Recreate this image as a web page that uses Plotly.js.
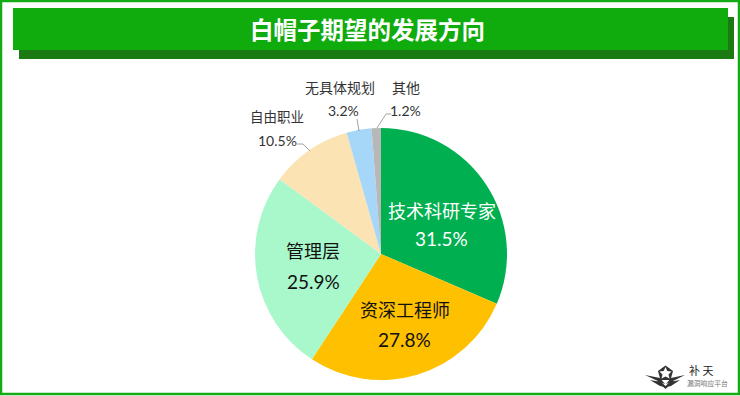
<!DOCTYPE html>
<html><head><meta charset="utf-8">
<script src="https://cdn.plot.ly/plotly-3.0.1.min.js"></script>
<style>html,body{margin:0;padding:0;background:#fff}#c{width:740px;height:396px}</style>
</head><body><div id="c"></div>
<script>
const categories=['技术科研专家','资深工程师','管理层','自由职业','无具体规划','其他'];
const values=[31.5,27.8,25.9,10.5,3.2,1.2];
const sliceColors=['#00B050','#FFC000','#A8F8CC','#FBE3B4','#A6D6F8','#B8B8B8'];
const titleText='白帽子期望的发展方向';
const W=740,H=396;
const FONT='"Noto Sans CJK SC","Microsoft YaHei",sans-serif';
const NUM='Lato,"Noto Sans",sans-serif';
const px=x=>x/W, py=y=>1-y/H;
function rect(x0,y0,x1,y1,fill,line,lw){return {type:'rect',xref:'paper',yref:'paper',x0:px(x0),x1:px(x1),y0:py(y1),y1:py(y0),fillcolor:fill,line:{color:line||fill,width:lw||0},layer:'below'};}
function lead(pts){return {type:'path',xref:'paper',yref:'paper',layer:'above',line:{color:'#8c8c8c',width:0.8},
  path:pts.map((p,i)=>(i?'L':'M')+px(p[0])+' '+py(p[1])).join(' ')};}
function poly(pts,fill){return {type:'path',xref:'paper',yref:'paper',layer:'above',fillcolor:fill,line:{width:0},
  path:pts.map((p,i)=>(i?'L':'M')+px(p[0])+' '+py(p[1])).join(' ')+' Z'};}
function label(x,y,t,size,color,weight,fam){return {xref:'paper',yref:'paper',x:px(x),y:py(y),text:t,showarrow:false,xanchor:'center',yanchor:'middle',
  font:{family:fam||FONT,size:size,color:color||'#222',weight:weight||400}};}
const pct=v=>v.toFixed(1)+'%';
const cx=381,cy=254,r=126;
const shapes=[
  rect(1,1,739,394,'rgba(0,0,0,0)','#14AB14',2.5),
  rect(19,17,734,59,'#1B7A12'),
  rect(13,8,728,50,'#10AB0C'),
  lead([[297,144],[303,144],[310,151]]),
  lead([[357,119],[359,131]]),
  lead([[391,114],[386,114],[377,128]]),
  poly([[645,375],[660,378],[665,384],[660,382]],'#333'),
  poly([[650,380],[661,382],[665,387],[660,386]],'#333'),
  poly([[685,375],[671,378],[666,384],[671,382]],'#333'),
  poly([[680,380],[670,382],[666,387],[671,386]],'#333'),
  poly([[665.5,389],[657,381],[660,381],[665.5,386],[671,381],[674,381]],'#333'),
  poly([[665.5,365.5],[673,371],[670.5,380],[660.5,380],[658,371]],'#333'),
  poly([[665.5,367],[667.3,371],[671.5,371.5],[668.5,374.5],[669.5,378.5],[665.5,376.5],[661.5,378.5],[662.5,374.5],[659.5,371.5],[663.7,371]],'#fff')
];
const annotations=[
  label(367,29,titleText,23.5,'#fff',700),
  label(442,210,categories[0],18,'#fff'),
  label(441,239,pct(values[0]),19,'#fff',400,NUM),
  label(405,309,categories[1],18,'#111'),
  label(405,339,pct(values[1]),19,'#111',400,NUM),
  label(313,250,categories[2],18,'#111'),
  label(313,281,pct(values[2]),19,'#111',400,NUM),
  label(277,116,categories[3],13.5,'#333'),
  label(277,140,pct(values[3]),14,'#333',400,NUM),
  label(340,87,categories[4],14,'#333'),
  label(343,110,pct(values[4]),14,'#333',400,NUM),
  label(406,87,categories[5],14,'#333'),
  label(406,110,pct(values[5]),14,'#333',400,NUM),
  label(701,370,'补 天',11,'#222',400),
  label(707,383,'漏洞响应平台',6.8,'#777')
];
Plotly.newPlot('c',[{
  type:'pie',labels:categories,values:values,sort:false,direction:'clockwise',rotation:0,
  marker:{colors:sliceColors,line:{width:0}},textinfo:'none',hoverinfo:'label+percent',
  domain:{x:[(cx-r)/W,(cx+r)/W],y:[1-(cy+r)/H,1-(cy-r)/H]},automargin:false
}],{
  width:W,height:H,margin:{l:0,r:0,t:0,b:0},showlegend:false,paper_bgcolor:'#fff',
  font:{family:FONT},shapes:shapes,annotations:annotations
},{displayModeBar:false,staticPlot:true});
</script></body></html>
